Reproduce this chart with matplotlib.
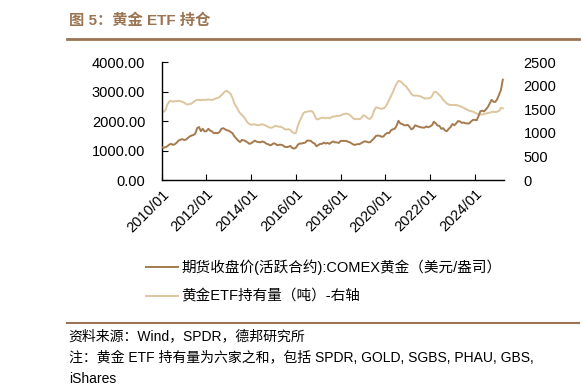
import matplotlib
matplotlib.use('Agg')
import matplotlib.pyplot as plt
import pandas as pd
from matplotlib.lines import Line2D

plt.rcParams['font.family'] = ['Liberation Sans', 'Noto Sans CJK SC']

# monthly data, 2010/01 - 2025/04
dates = pd.date_range('2010-01-01', periods=184, freq='MS')

# COMEX gold, USD/oz (left axis)
gold = [
    1110, 1100, 1115, 1150, 1200, 1230, 1195, 1215, 1270, 1340, 1370, 1390,
    1360, 1375, 1425, 1480, 1510, 1530, 1570, 1760, 1800, 1660, 1740, 1650,
    1660, 1740, 1675, 1650, 1590, 1600, 1590, 1630, 1740, 1760, 1720, 1690,
    1670, 1630, 1590, 1480, 1410, 1340, 1290, 1360, 1350, 1320, 1280, 1230,
    1250, 1300, 1340, 1300, 1290, 1280, 1310, 1290, 1240, 1220, 1180, 1200,
    1250, 1230, 1180, 1200, 1200, 1180, 1130, 1120, 1130, 1160, 1090, 1070,
    1100, 1200, 1240, 1240, 1260, 1270, 1340, 1340, 1330, 1270, 1240, 1150,
    1190, 1230, 1230, 1270, 1240, 1260, 1230, 1280, 1310, 1280, 1280, 1260,
    1330, 1330, 1330, 1330, 1300, 1280, 1240, 1200, 1200, 1220, 1220, 1250,
    1290, 1320, 1300, 1280, 1290, 1360, 1420, 1500, 1510, 1500, 1470, 1480,
    1560, 1600, 1590, 1690, 1720, 1740, 1840, 2010, 1920, 1900, 1860, 1860,
    1870, 1800, 1720, 1760, 1860, 1830, 1810, 1790, 1780, 1780, 1820, 1790,
    1820, 1860, 1980, 1930, 1850, 1840, 1740, 1760, 1680, 1660, 1740, 1800,
    1900, 1860, 1920, 2000, 1990, 1940, 1950, 1930, 1920, 1920, 1990, 2040,
    2040, 2030, 2170, 2340, 2350, 2330, 2400, 2480, 2600, 2720, 2650, 2650,
    2750, 2900, 3050, 3400,
]

# gold ETF holdings, tonnes (right axis)
etf = [
    1440, 1450, 1480, 1600, 1660, 1680, 1660, 1670, 1670, 1680, 1670, 1660,
    1640, 1610, 1600, 1610, 1620, 1650, 1680, 1700, 1700, 1690, 1700, 1700,
    1700, 1710, 1700, 1700, 1710, 1730, 1740, 1760, 1800, 1840, 1880, 1890,
    1860, 1820, 1740, 1620, 1560, 1480, 1420, 1380, 1340, 1280, 1220, 1190,
    1170, 1180, 1180, 1170, 1160, 1180, 1180, 1170, 1150, 1130, 1110, 1110,
    1130, 1150, 1140, 1130, 1130, 1110, 1080, 1070, 1080, 1060, 1020, 990,
    1000, 1150, 1250, 1330, 1420, 1440, 1450, 1460, 1460, 1450, 1370, 1290,
    1290, 1310, 1320, 1320, 1310, 1320, 1310, 1330, 1350, 1350, 1360, 1360,
    1370, 1390, 1400, 1410, 1400, 1380, 1340, 1300, 1290, 1300, 1290, 1310,
    1370, 1360, 1330, 1300, 1300, 1360, 1480, 1540, 1530, 1520, 1510, 1520,
    1550, 1620, 1700, 1780, 1860, 1960, 2040, 2100, 2090, 2060, 2010, 1990,
    1930, 1880, 1820, 1790, 1790, 1790, 1780, 1770, 1750, 1730, 1730, 1730,
    1740, 1780, 1860, 1870, 1840, 1800, 1760, 1700, 1660, 1620, 1600, 1590,
    1590, 1590, 1590, 1580, 1570, 1550, 1530, 1510, 1490, 1470, 1460, 1450,
    1430, 1410, 1390, 1390, 1390, 1400, 1410, 1420, 1430, 1440, 1450, 1440,
    1450, 1470, 1530, 1520,
]

xticks = pd.date_range('2010-01-01', '2024-01-01', freq='24MS')
xtick_labels = [d.strftime('%Y/%m') for d in xticks]
left_ticks = [0, 1000, 2000, 3000, 4000]
right_ticks = [0, 500, 1000, 1500, 2000, 2500]

DARK = '#A57A4E'
LIGHT = '#DCC69E'
TITLE_C = '#9B7553'

fig = plt.figure(figsize=(5.82, 3.9), dpi=100)
ax = fig.add_axes([0.278, 0.538, 0.588, 0.303])
ax2 = ax.twinx()

ax2.plot(dates, etf, color=LIGHT, lw=1.4)
ax.plot(dates, gold, color=DARK, lw=1.4, zorder=3)
ax.set_zorder(ax2.get_zorder() + 1)
ax.patch.set_visible(False)

ax.set_xlim(dates[0], dates[-1] + pd.Timedelta(days=20))
ax.set_ylim(0, 4000)
ax2.set_ylim(0, 2500)

ax.set_yticks(left_ticks)
ax.set_yticklabels([f'{v:.2f}' for v in left_ticks], fontsize=10.5)
ax2.set_yticks(right_ticks)
ax2.set_yticklabels([str(v) for v in right_ticks], fontsize=10.5)
ax.set_xticks(xticks)
ax.set_xticklabels(xtick_labels, rotation=45, ha='right', va='top',
                   rotation_mode='anchor', fontsize=10.5)

for a in (ax, ax2):
    a.spines['top'].set_visible(False)
    a.spines['right'].set_visible(False)
ax2.spines['left'].set_visible(False)
ax2.spines['bottom'].set_visible(False)
ax.spines['left'].set_linewidth(1.0)
ax.spines['bottom'].set_linewidth(1.0)
ax.tick_params(axis='y', direction='in', length=4, pad=12)
ax.tick_params(axis='x', direction='in', length=4, pad=5)
ax2.tick_params(axis='y', length=0, pad=14)

handles = [Line2D([], [], color=DARK, lw=1.4), Line2D([], [], color=LIGHT, lw=1.4)]
labels = ['期货收盘价(活跃合约):COMEX黄金（美元/盎司）', '黄金ETF持有量（吨）-右轴']
fig.legend(handles, labels, loc='upper left', bbox_to_anchor=(0.228, 0.368),
           frameon=False, fontsize=10.5, handlelength=2.2, handletextpad=0.25,
           labelspacing=1.0)

fig.text(0.118, 1 - 21 / 390, '图 5：黄金 ETF 持仓', fontsize=11, fontweight='bold',
         color=TITLE_C, va='center', ha='left')
fig.add_artist(Line2D([0.115, 0.995], [1 - 39 / 390, 1 - 39 / 390], color=TITLE_C, lw=2))
fig.add_artist(Line2D([0.115, 0.995], [1 - 323 / 390, 1 - 323 / 390], color=TITLE_C, lw=1.5))

fig.text(0.118, 1 - 336 / 390, '资料来源：Wind，SPDR，德邦研究所', fontsize=10, va='center')
fig.text(0.118, 1 - 358 / 390, '注：黄金 ETF 持有量为六家之和，包括 SPDR, GOLD, SGBS, PHAU, GBS,',
         fontsize=10, va='center')
fig.text(0.118, 1 - 379 / 390, 'iShares', fontsize=10, va='center')

fig.savefig('out.png', dpi=100)
